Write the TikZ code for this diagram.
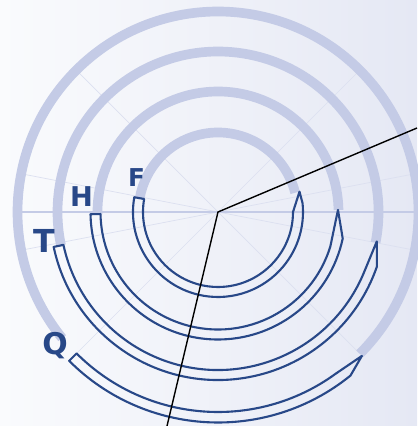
\documentclass[tikz,border=0pt]{standalone}
\usepackage{fontspec}
\setmainfont{Liberation Sans}
\newfontfamily\lblfont{DejaVu Sans}
\definecolor{ringblue}{HTML}{C4CBE6}
\definecolor{navy}{HTML}{284888}
\definecolor{bgleft}{HTML}{FAFBFD}
\definecolor{bgright}{HTML}{E5E8F4}
\begin{document}
\begin{tikzpicture}[
        ring/.style={draw=ringblue, line width=5.5pt},
        spoke/.style={draw=ringblue!60, line width=0.4pt},
        axisline/.style={draw=ringblue, line width=1.1pt},
        band/.style={draw=navy, line width=1.2pt, line join=round},
        lbl/.style={text=navy, font=\lblfont\bfseries\fontsize{#1}{#1}\selectfont, inner sep=0pt},
        pointer/.style={draw=black, line width=0.8pt}
    ]
    \fill[left color=bgleft, right color=bgright] (-4.36,-4.28) rectangle (3.98,4.24);
    \useasboundingbox (-4.36,-4.28) rectangle (3.98,4.24);
    \coordinate (O) at (0,0);
    \coordinate (ne) at (3.98,1.68);
    \coordinate (sw) at (-1.02,-4.28);

    % faint spokes and the horizontal axis
    \draw[spoke] (O) -- (11:4) (O) -- (45:4) (O) -- (135:4) (O) -- (169:4)
        (O) -- (191:4) (O) -- (225:4) (O) -- (315:4) (O) -- (349:4);
    \draw[axisline] (180:4) -- (0:4);

    % light rings (upper part)
    \draw[ring] (14:1.59) arc[start angle=14, end angle=170, radius=1.59];
    \draw[ring] (1:2.41) arc[start angle=1, end angle=181, radius=2.41];
    \draw[ring] (-11:3.21) arc[start angle=-11, end angle=192, radius=3.21];
    \draw[ring] (-45:4.01) arc[start angle=-45, end angle=219, radius=4.01];

    % outlined bands (lower part)
    \draw[band] (170:1.7) arc[start angle=170, end angle=366, radius=1.7] -- (374:1.68)
        -- (360:1.5) arc[start angle=360, end angle=170, radius=1.5] -- cycle;
    \draw[band] (181:2.55) arc[start angle=181, end angle=348, radius=2.55] -- (361:2.4)
        -- (343:2.35) arc[start angle=343, end angle=181, radius=2.35] -- cycle;
    \draw[band] (192:3.36) arc[start angle=192, end angle=341, radius=3.36] -- (349.5:3.23)
        -- (338:3.16) arc[start angle=338, end angle=192, radius=3.16] -- cycle;
    \draw[band] (225:4.21) arc[start angle=225, end angle=309, radius=4.21] -- (315:4.07)
        -- (306:4.0) arc[start angle=306, end angle=225, radius=4.0] -- cycle;

    \node[lbl=14] (lblF) at (-1.63,0.69) {F};
    \node[lbl=15.5] (lblH) at (-2.73,0.31) {H};
    \node[lbl=18] (lblT) at (-3.48,-0.58) {T};
    \node[lbl=17] (lblQ) at (-3.26,-2.68) {Q};

    \draw[pointer] (ne) -- (O) -- (sw);
\end{tikzpicture}
\end{document}
